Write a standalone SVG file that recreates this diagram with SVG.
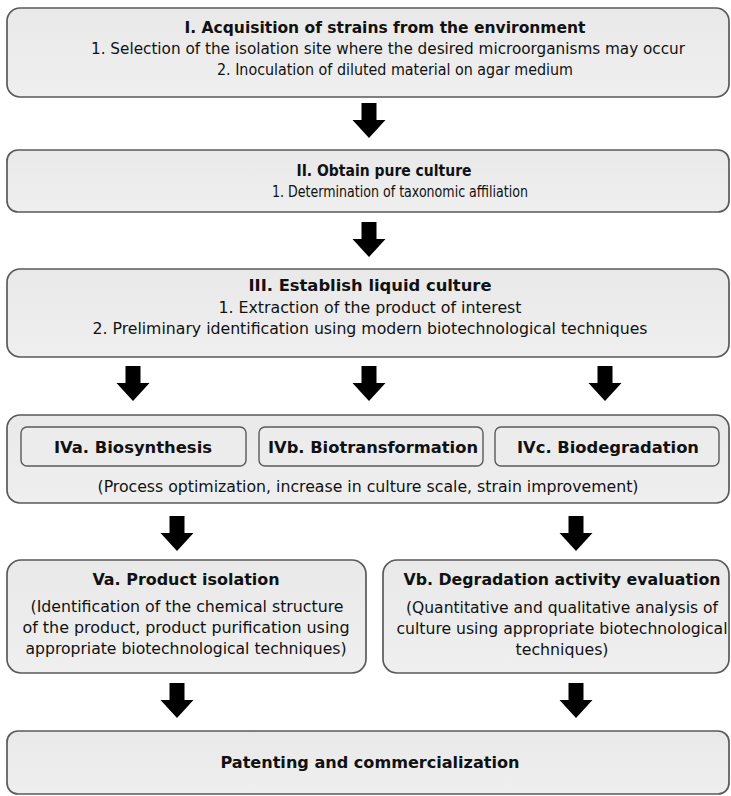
<svg xmlns="http://www.w3.org/2000/svg" xmlns:xlink="http://www.w3.org/1999/xlink" width="731" height="796" viewBox="0 0 731 796">
<style>
.box{fill:url(#g);stroke:#5a5a5a;stroke-width:1.7}
.inner{fill:#ececec;stroke:#5a5a5a;stroke-width:1.4}
.t{font-family:"DejaVu Sans Condensed","DejaVu Sans","Liberation Sans",Arial,sans-serif;font-size:16px;font-weight:bold;fill:#111;text-anchor:middle}
.n{font-family:"DejaVu Sans Condensed","DejaVu Sans","Liberation Sans",Arial,sans-serif;font-size:16px;fill:#111;text-anchor:middle}
.arrow{fill:#000}
</style>
<defs>
<linearGradient id="g" x1="0" y1="0" x2="0" y2="1">
<stop offset="0" stop-color="#e9e9e9"/>
<stop offset="1" stop-color="#efefef"/>
</linearGradient>
<path id="arr" d="M-7.5,0 H7.5 V17 H16.5 L0,35 L-16.5,17 H-7.5 Z"/>
</defs>
<rect width="731" height="796" fill="#fff"/>
<g id="connectors" class="arrow">
<use xlink:href="#arr" x="369" y="103"/>
<use xlink:href="#arr" x="369" y="222"/>
<use xlink:href="#arr" x="133" y="366"/>
<use xlink:href="#arr" x="369" y="366"/>
<use xlink:href="#arr" x="605" y="366"/>
<use xlink:href="#arr" x="177" y="516"/>
<use xlink:href="#arr" x="576" y="516"/>
<use xlink:href="#arr" x="177" y="683"/>
<use xlink:href="#arr" x="576" y="683"/>
</g>
<g id="step1">
<rect class="box" x="7" y="8" width="722" height="89" rx="13"/>
<text class="t" x="385" y="33" textLength="401" lengthAdjust="spacingAndGlyphs">I. Acquisition of strains from the environment</text>
<text class="n" x="388" y="54" textLength="594" lengthAdjust="spacingAndGlyphs">1. Selection of the isolation site where the desired microorganisms may occur</text>
<text class="n" x="395" y="75" textLength="356" lengthAdjust="spacingAndGlyphs">2. Inoculation of diluted material on agar medium</text>
</g>
<g id="step2">
<rect class="box" x="7" y="150" width="722" height="62" rx="11"/>
<text class="t" x="384" y="176" textLength="175" lengthAdjust="spacingAndGlyphs">II. Obtain pure culture</text>
<text class="n" x="400" y="197" textLength="256" lengthAdjust="spacingAndGlyphs">1. Determination of taxonomic affiliation</text>
</g>
<g id="step3">
<rect class="box" x="7" y="269" width="722" height="88" rx="13"/>
<text class="t" x="370" y="291" textLength="243" lengthAdjust="spacingAndGlyphs">III. Establish liquid culture</text>
<text class="n" x="370" y="313" textLength="303" lengthAdjust="spacingAndGlyphs">1. Extraction of the product of interest</text>
<text class="n" x="370" y="334" textLength="555" lengthAdjust="spacingAndGlyphs">2. Preliminary identification using modern biotechnological techniques</text>
</g>
<g id="step4">
<rect class="box" x="7" y="415" width="722" height="88" rx="13"/>
<text class="n" x="368" y="492" textLength="541" lengthAdjust="spacingAndGlyphs">(Process optimization, increase in culture scale, strain improvement)</text>
</g>
<g id="step4a">
<rect class="inner" x="21" y="427" width="225" height="39" rx="6"/>
<text class="t" x="133" y="453" textLength="158" lengthAdjust="spacingAndGlyphs">IVa. Biosynthesis</text>
</g>
<g id="step4b">
<rect class="inner" x="259" y="427" width="224" height="39" rx="6"/>
<text class="t" x="373" y="453" textLength="210" lengthAdjust="spacingAndGlyphs">IVb. Biotransformation</text>
</g>
<g id="step4c">
<rect class="inner" x="495" y="427" width="224" height="39" rx="6"/>
<text class="t" x="608" y="453" textLength="182" lengthAdjust="spacingAndGlyphs">IVc. Biodegradation</text>
</g>
<g id="step5a">
<rect class="box" x="7" y="560" width="359" height="113" rx="14"/>
<text class="t" x="186" y="585" textLength="187" lengthAdjust="spacingAndGlyphs">Va. Product isolation</text>
<text class="n" x="187" y="612" textLength="313" lengthAdjust="spacingAndGlyphs">(Identification of the chemical structure</text>
<text class="n" x="186" y="633" textLength="327" lengthAdjust="spacingAndGlyphs">of the product, product purification using</text>
<text class="n" x="186" y="654" textLength="321" lengthAdjust="spacingAndGlyphs">appropriate biotechnological techniques)</text>
</g>
<g id="step5b">
<rect class="box" x="383" y="560" width="346" height="113" rx="14"/>
<text class="t" x="562" y="585" textLength="317" lengthAdjust="spacingAndGlyphs">Vb. Degradation activity evaluation</text>
<text class="n" x="562" y="613" textLength="312" lengthAdjust="spacingAndGlyphs">(Quantitative and qualitative analysis of</text>
<text class="n" x="562" y="634" textLength="331" lengthAdjust="spacingAndGlyphs">culture using appropriate biotechnological</text>
<text class="n" x="562" y="655" textLength="93" lengthAdjust="spacingAndGlyphs">techniques)</text>
</g>
<g id="step6">
<rect class="box" x="7" y="731" width="722" height="63" rx="11"/>
<text class="t" x="370" y="768" textLength="299" lengthAdjust="spacingAndGlyphs">Patenting and commercialization</text>
</g>
</svg>
